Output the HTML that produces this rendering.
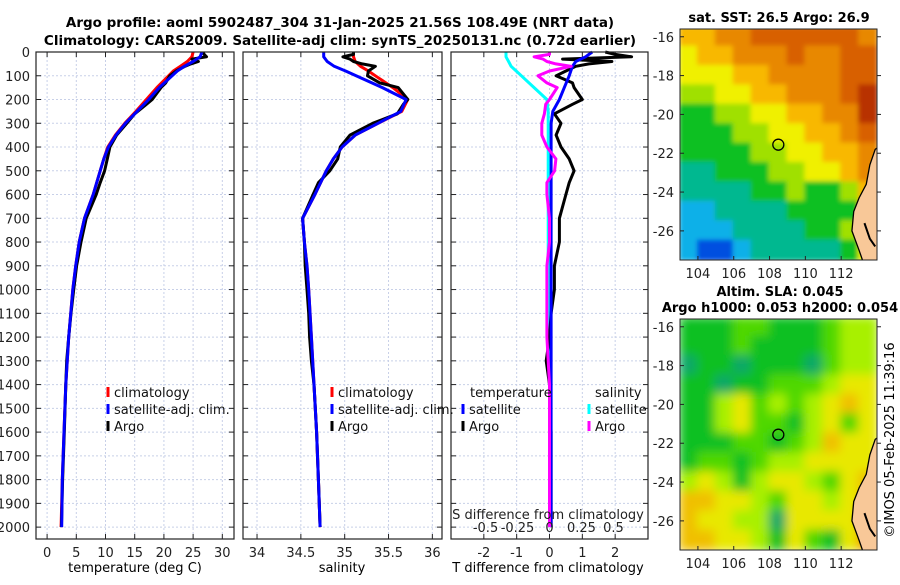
<!DOCTYPE html>
<html><head><meta charset="utf-8"><style>
body{margin:0;background:#fff;}
svg{font-family:"DejaVu Sans","Liberation Sans",sans-serif;}
</style></head><body>
<svg id="fig" width="900" height="580" viewBox="0 0 900 580" xmlns="http://www.w3.org/2000/svg">
<text x="340" y="27" text-anchor="middle" font-weight="bold" font-size="13.5">Argo profile: aoml 5902487_304 31-Jan-2025 21.56S 108.49E (NRT data)</text>
<text x="340" y="45" text-anchor="middle" font-weight="bold" font-size="13.5">Climatology: CARS2009. Satellite-adj clim: synTS_20250131.nc (0.72d earlier)</text>
<text x="779" y="22" text-anchor="middle" font-weight="bold" font-size="13">sat. SST: 26.5 Argo: 26.9</text>
<text x="780" y="296" text-anchor="middle" font-weight="bold" font-size="13">Altim. SLA: 0.045</text>
<text x="780" y="312" text-anchor="middle" font-weight="bold" font-size="13">Argo h1000: 0.053 h2000: 0.054</text>
<text transform="translate(894,440) rotate(-90)" text-anchor="middle" font-size="13">©IMOS 05-Feb-2025 11:39:16</text>
<text x="88" y="512" font-size="11">Argo SIO</text>
<text x="88" y="525" font-size="11">PI: DEAN ROEMMICH</text>
<text x="135" y="572" text-anchor="middle" font-size="13">temperature (deg C)</text>
<text x="342" y="572" text-anchor="middle" font-size="13">salinity</text>
<text x="548" y="572" text-anchor="middle" font-size="13">T difference from climatology</text>
</svg>
<script>
// ---------- DATA ----------
const depthClim = [0,20,40,60,80,100,150,200,250,300,350,400,450,500,600,700,800,900,1000,1200,1400,1600,1800,2000];
const tempClim = [25,24.8,24,22.8,21.6,20.8,18.8,17,15.2,13.3,11.7,10.4,9.7,9.1,7.9,6.4,5.5,4.9,4.4,3.7,3.2,2.9,2.6,2.4];
const tempSat = [26.5,26.2,25,23.5,22.3,21.4,19.2,17.4,15.4,13.4,11.8,10.5,9.7,9.1,7.9,6.4,5.5,4.9,4.4,3.7,3.2,2.9,2.6,2.5];
const salClim = [35.1,35.1,35.12,35.18,35.27,35.35,35.55,35.72,35.65,35.38,35.12,34.97,34.87,34.79,34.66,34.52,34.54,34.57,34.59,34.62,34.65,34.68,34.7,34.72];
const salSat = [34.76,34.76,34.8,34.88,35.01,35.13,35.43,35.7,35.64,35.38,35.12,34.97,34.87,34.79,34.66,34.52,34.54,34.57,34.59,34.62,34.65,34.68,34.7,34.72];
const tDiffSat = [1.3,1.1,0.8,0.7,0.65,0.6,0.45,0.3,0.1,0.05,0.05,0.05,0.05,0.05,0.05,0.05,0.05,0.05,0.05,0.05,0.05,0.05,0.05,0.05];
const sDiffSat = [-0.34,-0.34,-0.32,-0.3,-0.26,-0.22,-0.12,-0.02,-0.01,-0.01,-0.01,-0.01,-0.01,-0.01,-0.01,-0.01,-0.01,-0.01,-0.01,-0.005,0,0,0,0];
const depthArgo = [0,10,20,30,40,50,60,80,100,130,150,200,220,260,300,350,400,450,500,550,600,700,800,900,1000,1100,1200,1300,1400,1600,1800,2000];
const tempArgo = [26.7,26.9,27.3,24.8,25.9,24.6,23.6,22.1,21,20.3,19.5,18,17,15,13.65,11.9,10.75,10.3,9.85,9.1,8.4,6.7,5.8,5.05,4.55,4.1,3.7,3.35,3.2,2.95,2.65,2.45];
const salArgo = [35.1,35.1,34.98,35.06,35.1,35.2,35.35,35.27,35.26,35.4,35.61,35.72,35.67,35.6,35.32,35.06,34.95,34.92,34.83,34.7,34.64,34.52,34.54,34.55,34.57,34.59,34.6,34.62,34.65,34.68,34.7,34.72];
const tDiffArgo = [1.7,2.0,2.5,0.4,1.9,1.2,0.8,0.5,0.2,0.7,0.75,1.0,0.7,0.15,0.35,0.2,0.35,0.6,0.75,0.6,0.5,0.3,0.3,0.15,0.15,0.05,0,-0.1,0,0.05,0.05,0.05];
const sDiffArgo = [0,0,-0.12,-0.05,-0.02,0.05,0.17,0,-0.09,-0.02,0.06,0,-0.03,-0.04,-0.06,-0.06,-0.02,0.05,0.04,-0.02,-0.02,0,0,-0.02,-0.02,-0.02,-0.02,-0.01,0,0,0,0];
const depthTicks = [0,100,200,300,400,500,600,700,800,900,1000,1100,1200,1300,1400,1500,1600,1700,1800,1900,2000];
const tempTicks = [0,5,10,15,20,25,30];
const salTicks = [34,34.5,35,35.5,36];
const tDiffTicks = [-2,-1,0,1,2];
const sDiffTicks = [-0.5,-0.25,0,0.25,0.5];
const sDiffTickLabels = ["-0.5","-0.25","0","0.25","0.5"];
const mapLonTicks = [104,106,108,110,112];
const mapLatTicks = [-16,-18,-20,-22,-24,-26];
const gridLons = [103.5,104.5,105.5,106.5,107.5,108.5,109.5,110.5,111.5,112.5,113.5];
const gridLats = [-16,-17,-18,-19,-20,-21,-22,-23,-24,-25,-26,-27];
const sstGrid = [
[7,7,8,8,9,9,9,9,9,9,8],
[6,7,7,8,8,8,9,8,8,9,9],
[6,6,6,7,7,8,8,8,8,9,9],
[5,5,6,6,7,7,8,8,8,9,10],
[4,4,5,5,6,6,7,7,8,8,10],
[4,4,4,5,5,6,6,7,7,8,9],
[4,4,4,4,5,5,6,6,7,7,8],
[3,3,4,4,4,5,5,6,6,7,8],
[3,3,3,3,4,4,5,4,4,5,7],
[2,2,3,3,3,3,4,4,4,4,7],
[2,2,2,3,3,3,3,4,4,5,8],
[2,1,1,2,3,3,3,3,3,4,6]];
const slaGrid = [
[1,1,1,2,2,1,1,1,2,3,3],
[1,1,1,2,1,1,1,1,2,3,3],
[0,1,1,0,1,1,1,0,2,3,3],
[1,1,0,1,1,2,2,2,3,4,4],
[1,1,3,4,2,3,2,3,4,5,4],
[1,1,3,4,2,2,1,3,4,2,4],
[1,1,1,2,2,1,2,3,5,4,4],
[1,2,2,1,2,3,3,4,4,4,4],
[3,4,3,1,3,4,4,3,2,4,5],
[5,5,4,4,3,2,4,4,3,4,5],
[5,4,4,3,3,0,4,4,4,4,6],
[5,5,4,4,3,1,4,2,1,4,6]];
const argoLon = 108.49, argoLat = -21.56;

// ---------- STYLE ----------
const sstColors = ['#0000a0','#0050e0','#10b0e8','#00b890','#10c020','#a0e000','#f0f000','#f8b800','#e88800','#d86000','#b83000'];
const slaColors = ['#10a868','#10c020','#50d800','#a8f000','#e8e800','#f0c000','#f09000'];
const NS = 'http://www.w3.org/2000/svg';
const svg = document.getElementById('fig');
function mk(tag, a, parent){ const e=document.createElementNS(NS,tag); for(const k in a) e.setAttribute(k,a[k]); (parent||svg).appendChild(e); return e; }

const Y0=52, Y1=539, DMAX=2050;
const yD = d => Y0 + d/DMAX*(Y1-Y0);
const panels = [
 {name:'temperature-panel', x0:36, x1:234, min:-1.9, max:32},
 {name:'salinity-panel', x0:243, x1:442, min:33.84, max:36.11},
 {name:'difference-panel', x0:451, x1:648, min:-3, max:3}
];
const xf = (p,v) => p.x0 + (v-p.min)/(p.max-p.min)*(p.x1-p.x0);
const sPanel = {x0:451, x1:648, min:-0.77, max:0.77};

panels.forEach((p,pi)=>{
  const g = mk('g',{});
  
  
  const bg = mk('rect',{x:p.x0,y:Y0,width:p.x1-p.x0,height:Y1-Y0,fill:'#fff'},g);
  
  
  depthTicks.forEach(d=>{
    const l = mk('line',{x1:p.x0,x2:p.x1,y1:yD(d),y2:yD(d),stroke:'#c8d0e8','stroke-dasharray':'2,2','stroke-width':1},g);
    
    
    mk('line',{x1:p.x0,x2:p.x0+5,y1:yD(d),y2:yD(d),stroke:'#222'},g);
    mk('line',{x1:p.x1-5,x2:p.x1,y1:yD(d),y2:yD(d),stroke:'#222'},g);
    if(pi===0){
      const t = mk('text',{x:p.x0-6,y:yD(d)+5,'text-anchor':'end','font-size':13,fill:'#222'},g);
      
      
      t.textContent = d;
    }
  });
  const ticks = pi===0?tempTicks:pi===1?salTicks:tDiffTicks;
  ticks.forEach(v=>{
    const x = xf(p,v);
    const l = mk('line',{x1:x,x2:x,y1:Y0,y2:Y1,stroke:'#c8d0e8','stroke-dasharray':'2,2'},g);
    
    
    mk('line',{x1:x,x2:x,y1:Y1-5,y2:Y1,stroke:'#222'},g);
    mk('line',{x1:x,x2:x,y1:Y0,y2:Y0+5,stroke:'#222'},g);
    const t = mk('text',{x:x,y:Y1+18,'text-anchor':'middle','font-size':13,fill:'#222'},g);
    
    
    t.textContent = v;
  });
});

function line(depths, vals, scaleP, color, name, w){
  const pts = depths.map((d,i)=>xf(scaleP,vals[i]).toFixed(1)+','+yD(d).toFixed(1)).join(' ');
  const pl = mk('polyline',{points:pts,fill:'none',stroke:color,'stroke-width':w||3,'stroke-linejoin':'round'});
  
  
}
line(depthClim,tempClim,panels[0],'#ff0000','temp-climatology-line');
line(depthArgo,tempArgo,panels[0],'#000','temp-argo-line');
line(depthClim,tempSat,panels[0],'#0000ff','temp-satellite-line');
line(depthClim,salClim,panels[1],'#ff0000','sal-climatology-line');
line(depthArgo,salArgo,panels[1],'#000','sal-argo-line');
line(depthClim,salSat,panels[1],'#0000ff','sal-satellite-line');
line(depthClim,sDiffSat,sPanel,'#00ffff','sdiff-satellite-line');
line(depthArgo,tDiffArgo,panels[2],'#000','tdiff-argo-line');
line(depthClim,tDiffSat,panels[2],'#0000ff','tdiff-satellite-line');
line(depthArgo,sDiffArgo,sPanel,'#ff00ff','sdiff-argo-line');

sDiffTicks.forEach((v,i)=>{
  const x = xf(sPanel,v);
  const t = mk('text',{x:x,y:532,'text-anchor':'middle','font-size':13,fill:'#222'});
  
  
  t.textContent = sDiffTickLabels[i];
});
const st = mk('text',{x:548,y:519,'text-anchor':'middle','font-size':13,fill:'#222'});


st.textContent = 'S difference from climatology';

panels.forEach(p=>{
  const r = mk('rect',{x:p.x0,y:Y0,width:p.x1-p.x0,height:Y1-Y0,fill:'none',stroke:'#222','stroke-width':1.2});
  
  
});

function legendEntry(x,y,color,label){
  const g = mk('g',{});
  
  
  mk('line',{x1:x,x2:x,y1:y-10,y2:y,stroke:color,'stroke-width':3},g);
  const t = mk('text',{x:x+6,y:y,'font-size':13,fill:'#111'},g);
  t.textContent = label;
}
legendEntry(108,397,'#ff0000','climatology');
legendEntry(108,414,'#0000ff','satellite-adj. clim.');
legendEntry(108,431,'#000','Argo');
legendEntry(332,397,'#ff0000','climatology');
legendEntry(332,414,'#0000ff','satellite-adj. clim.');
legendEntry(332,431,'#000','Argo');
const lt = mk('text',{x:470,y:397,'font-size':13,fill:'#111'});


lt.textContent = 'temperature';
const ls = mk('text',{x:595,y:397,'font-size':13,fill:'#111'});


ls.textContent = 'salinity';
legendEntry(463,414,'#0000ff','satellite');
legendEntry(463,431,'#000','Argo');
legendEntry(589,414,'#00ffff','satellite');
legendEntry(589,431,'#ff00ff','Argo');

// ---------- MAPS ----------
function drawMap(name, top, bottom, grid, colors, blurId){
  const M = {x0:680,x1:877,y0:top,y1:bottom,lon0:103,lon1:114,lat0:-15.6,lat1:-27.5};
  const mx = lon => M.x0 + (lon-M.lon0)/(M.lon1-M.lon0)*(M.x1-M.x0);
  const my = lat => M.y0 + (lat-M.lat0)/(M.lat1-M.lat0)*(M.y1-M.y0);
  const g = mk('g',{});
  
  
  const clipId = name+'-clip';
  const cp = mk('clipPath',{id:clipId},g);
  mk('rect',{x:M.x0,y:M.y0,width:M.x1-M.x0,height:M.y1-M.y0},cp);
  const cg = mk('g',{'clip-path':'url(#'+clipId+')'},g);
  const ig = mk('g',{filter:'url(#'+blurId+')'},cg);
  grid.forEach((row,ri)=>row.forEach((v,ci)=>{
    const x = mx(gridLons[ci]-0.5), y = my(gridLats[ri]+0.5);
    const c = mk('rect',{x:x-1,y:y-1,width:mx(gridLons[ci]+0.5)-x+2,height:my(gridLats[ri]-0.5)-y+2,fill:colors[v]},ig);
    
    
  }));
  const land = [[114.2,-21.6],[113.9,-21.8],[113.6,-22.6],[113.4,-23.6],[113.0,-24.3],[112.7,-25],[112.6,-26],[113.0,-27],[113.3,-27.8],[114.2,-27.8]];
  const lp = mk('polygon',{points:land.map(p=>mx(p[0])+','+my(p[1])).join(' '),fill:'#f8c898',stroke:'#000','stroke-width':1.3},cg);
  
  
  mk('path',{d:`M${mx(113.3)},${my(-25.6)} L${mx(113.6)},${my(-26.4)} L${mx(113.9)},${my(-26.8)}`,stroke:'#000','stroke-width':2,fill:'none'},cg);
  const ci = mk('circle',{cx:mx(argoLon),cy:my(argoLat),r:5.5,fill:'none',stroke:'#000','stroke-width':1.3},g);
  
  
  mk('rect',{x:M.x0,y:M.y0,width:M.x1-M.x0,height:M.y1-M.y0,fill:'none',stroke:'#222','stroke-width':1},g);
  mapLonTicks.forEach(v=>{
    mk('line',{x1:mx(v),x2:mx(v),y1:M.y1,y2:M.y1-4,stroke:'#222'},g);
    const t = mk('text',{x:mx(v),y:M.y1+18,'text-anchor':'middle','font-size':13,fill:'#222'},g);
    
    
    t.textContent = v;
  });
  mapLatTicks.forEach(v=>{
    mk('line',{x1:M.x0,x2:M.x0+4,y1:my(v),y2:my(v),stroke:'#222'},g);
    mk('line',{x1:M.x1,x2:M.x1+4,y1:my(v),y2:my(v),stroke:'#222'},g);
    const t = mk('text',{x:M.x0-6,y:my(v)+5,'text-anchor':'end','font-size':13,fill:'#222'},g);
    
    
    t.textContent = v;
  });
}
const defs = mk('defs',{});
const f = mk('filter',{id:'blur1',x:'-5%',y:'-5%',width:'110%',height:'110%'},defs);
mk('feGaussianBlur',{stdDeviation:5},f);
const f2 = mk('filter',{id:'blur2',x:'-5%',y:'-5%',width:'110%',height:'110%'},defs);
mk('feGaussianBlur',{stdDeviation:2.5},f2);
drawMap('sst-map',29,260,sstGrid,sstColors,'blur2');
drawMap('sla-map',319,550,slaGrid,slaColors,'blur1');
</script>
</body></html>
